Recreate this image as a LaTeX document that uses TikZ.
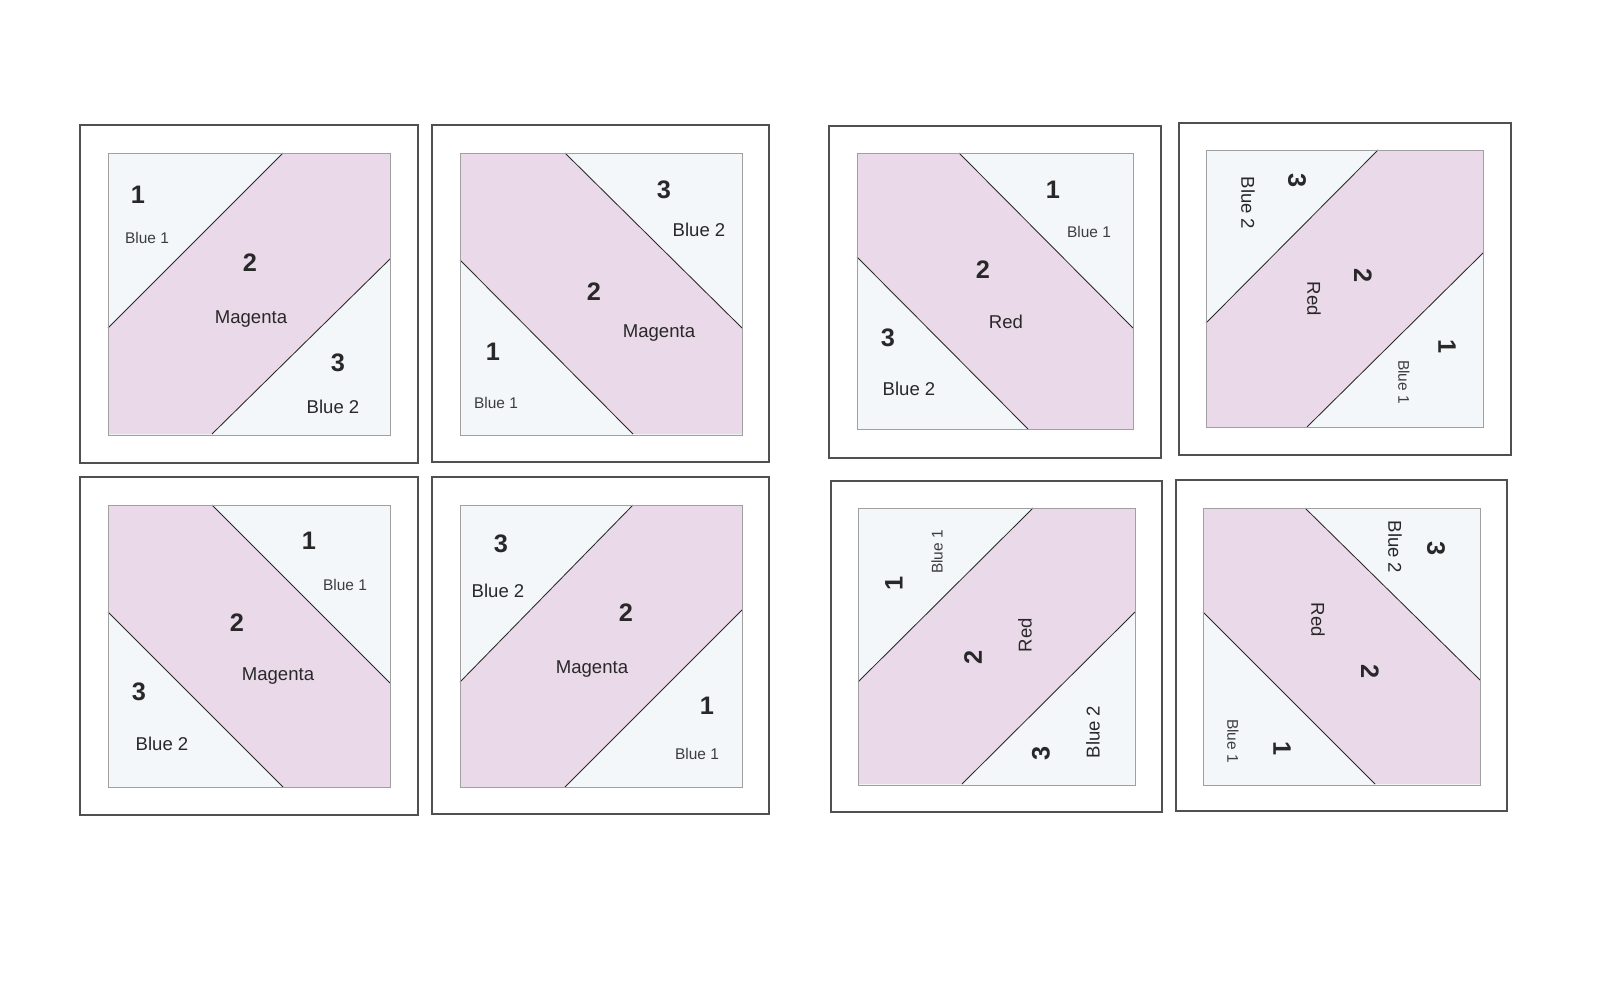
\documentclass[tikz,border=0pt]{standalone}
\usepackage{fontspec}
\setmainfont{Liberation Sans}
\definecolor{quiltpink}{RGB}{234,217,233}
\definecolor{quiltblue}{RGB}{243,247,250}
\definecolor{seamgray}{RGB}{160,160,160}
\definecolor{framegray}{RGB}{80,80,80}
\definecolor{inkgray}{RGB}{40,40,40}
\begin{document}
\begin{tikzpicture}[x=0.025cm,y=-0.025cm,
  frame/.style={draw=framegray, line width=1.2pt},
  edge/.style={draw=seamgray, line width=0.7pt},
  seam/.style={draw=inkgray, line width=0.6pt},
  num/.style={text=inkgray, font=\fontsize{18}{18}\selectfont\bfseries, inner sep=0pt},
  lbl/.style={text=inkgray, font=\fontsize{13.2}{14}\selectfont, inner sep=0pt},
  smalllbl/.style={text=inkgray!90, font=\fontsize{11}{11}\selectfont, inner sep=0pt}]

\useasboundingbox (0,0) rectangle (1600,1000);

% blue backgrounds
\foreach \x/\y/\s in {108/153/282, 460/153/282, 108/505/282, 460/505/282, 857/153/276, 1206/150/277, 858/508/277, 1203/508/277}
  \fill[quiltblue] (\x,\y) rectangle ++(\s,\s);

% pink strips
\fill[quiltpink] (108,328) -- (283,153) -- (390,153) -- (390,259) -- (212,434) -- (108,434) -- cycle;
\fill[quiltpink] (460,153) -- (565,153) -- (742,328) -- (742,434) -- (633,434) -- (460,260) -- cycle;
\fill[quiltpink] (108,505) -- (212,505) -- (390,683) -- (390,787) -- (283,787) -- (108,612) -- cycle;
\fill[quiltpink] (460,682) -- (633,505) -- (742,505) -- (742,610) -- (565,787) -- (460,787) -- cycle;
\fill[quiltpink] (857,153) -- (959,153) -- (1133,328) -- (1133,429) -- (1028,429) -- (857,257) -- cycle;
\fill[quiltpink] (1206,323) -- (1378,150) -- (1483,150) -- (1483,253) -- (1307,427) -- (1206,427) -- cycle;
\fill[quiltpink] (858,682) -- (1033,508) -- (1135,508) -- (1135,612) -- (962,784) -- (858,784) -- cycle;
\fill[quiltpink] (1203,508) -- (1305,508) -- (1480,680) -- (1480,784) -- (1375,784) -- (1203,612) -- cycle;

% seams
\draw[seam] (108,328) -- (283,153)  (212,434) -- (390,259);
\draw[seam] (565,153) -- (742,328)  (460,260) -- (633,434);
\draw[seam] (212,505) -- (390,683)  (108,612) -- (283,787);
\draw[seam] (460,682) -- (633,505)  (565,787) -- (742,610);
\draw[seam] (959,153) -- (1133,328)  (857,257) -- (1028,429);
\draw[seam] (1206,323) -- (1378,150)  (1307,427) -- (1483,253);
\draw[seam] (858,682) -- (1033,508)  (962,784) -- (1135,612);
\draw[seam] (1305,508) -- (1480,680)  (1203,612) -- (1375,784);

% block edges and frames
\foreach \x/\y/\s in {108/153/282, 460/153/282, 108/505/282, 460/505/282, 857/153/276, 1206/150/277, 858/508/277, 1203/508/277}
  \draw[edge] (\x,\y) rectangle ++(\s,\s);
\foreach \x/\y/\s in {80/125/338, 432/125/337, 80/477/338, 432/477/337, 829/126/332, 1179/123/332, 831/481/331, 1176/480/331}
  \draw[frame] (\x,\y) rectangle ++(\s,\s);

% top left block
\node[num] (a1) at (138,195) {1};
\node[smalllbl] (a1l) at (147,238) {Blue 1};
\node[num] (a2) at (250,263) {2};
\node[lbl] (a2l) at (251,319) {Magenta};
\node[num] (a3) at (338,363) {3};
\node[lbl] (a3l) at (333,407) {Blue 2};

\node[num] (b3) at (664,190) {3};
\node[lbl] (b3l) at (699,230) {Blue 2};
\node[num] (b2) at (594,292) {2};
\node[lbl] (b2l) at (659,333) {Magenta};
\node[num] (b1) at (493,352) {1};
\node[smalllbl] (b1l) at (496,403) {Blue 1};

\node[num] (c1) at (309,541) {1};
\node[smalllbl] (c1l) at (345,585) {Blue 1};
\node[num] (c2) at (237,623) {2};
\node[lbl] (c2l) at (278,676) {Magenta};
\node[num] (c3) at (139,692) {3};
\node[lbl] (c3l) at (162,744) {Blue 2};

\node[num] (d3) at (501,544) {3};
\node[lbl] (d3l) at (498,591) {Blue 2};
\node[num] (d2) at (626,613) {2};
\node[lbl] (d2l) at (592,669) {Magenta};
\node[num] (d1) at (707,706) {1};
\node[smalllbl] (d1l) at (697,754) {Blue 1};

% right group
\node[num] (e1) at (1053,190) {1};
\node[smalllbl] (e1l) at (1089,232) {Blue 1};
\node[num] (e2) at (983,270) {2};
\node[lbl] (e2l) at (1006,322) {Red};
\node[num] (e3) at (888,338) {3};
\node[lbl] (e3l) at (909,389) {Blue 2};

\node[num, rotate=-90] (f3) at (1297,181) {3};
\node[lbl, rotate=-90] (f3l) at (1248,203) {Blue 2};
\node[num, rotate=-90] (f2) at (1363,276) {2};
\node[lbl, rotate=-90] (f2l) at (1314,299) {Red};
\node[num, rotate=-90] (f1) at (1447,347) {1};
\node[smalllbl, rotate=-90] (f1l) at (1404,382) {Blue 1};

\node[smalllbl, rotate=90] (g1l) at (937,552) {Blue 1};
\node[num, rotate=90] (g1) at (894,583) {1};
\node[lbl, rotate=90] (g2l) at (1025,635) {Red};
\node[num, rotate=90] (g2) at (973,657) {2};
\node[lbl, rotate=90] (g3l) at (1093,732) {Blue 2};
\node[num, rotate=90] (g3) at (1041,753) {3};

\node[num, rotate=-90] (h3) at (1436,549) {3};
\node[lbl, rotate=-90] (h3l) at (1395,547) {Blue 2};
\node[lbl, rotate=-90] (h2l) at (1318,620) {Red};
\node[num, rotate=-90] (h2) at (1370,672) {2};
\node[num, rotate=-90] (h1) at (1282,749) {1};
\node[smalllbl, rotate=-90] (h1l) at (1233,741) {Blue 1};

\end{tikzpicture}
\end{document}
